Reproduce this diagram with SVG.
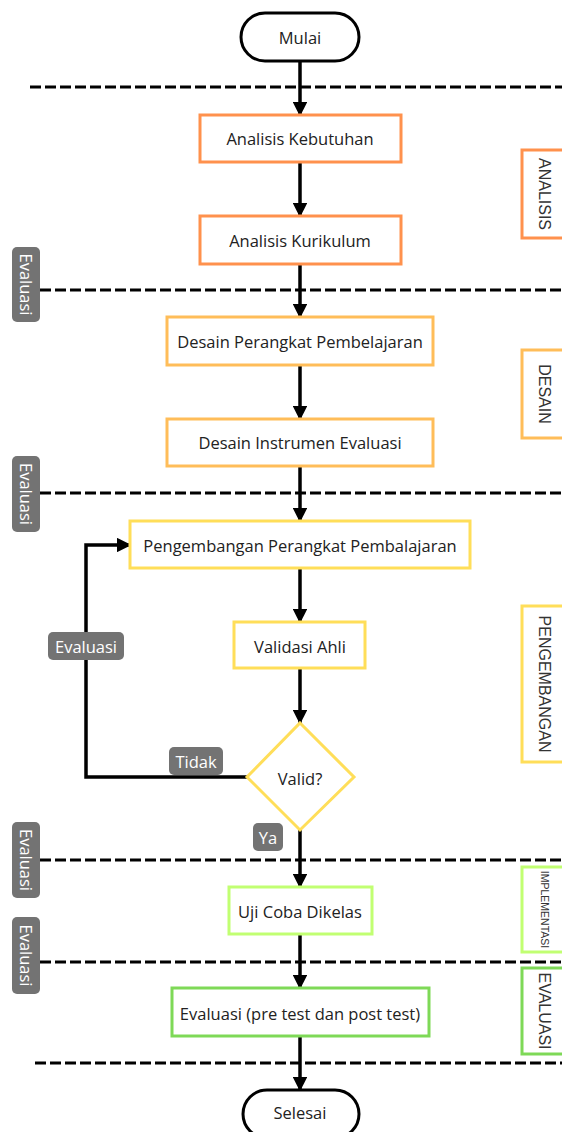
<svg xmlns="http://www.w3.org/2000/svg" width="562" height="1132" viewBox="0 0 562 1132">
<style>
.t{font-family:"Open Sans","Liberation Sans",sans-serif;font-size:16.5px;fill:#222;text-anchor:middle;dominant-baseline:central}
.box{fill:#fff;stroke-width:3}
.dash{stroke:#000;stroke-width:3;stroke-dasharray:11 4;fill:none}
.con{stroke:#000;stroke-width:3.5;fill:none}
.lbl{fill:#737373}
.lt{font-family:"Open Sans","Liberation Sans",sans-serif;font-size:16.5px;fill:#fff;text-anchor:middle;dominant-baseline:central}
.st{font-family:"Liberation Sans",Arial,sans-serif;font-size:16px;fill:#333;text-anchor:middle;dominant-baseline:central}
</style>
<defs>
<marker id="ah" markerWidth="4.2" markerHeight="4.2" refX="3.8" refY="2.1" orient="auto" markerUnits="strokeWidth">
<path d="M0,0 L4.2,2.1 L0,4.2 Z" fill="#000"/>
</marker>
</defs>
<rect width="562" height="1132" fill="#fff"/>
<g id="separators">
<line class="dash" x1="30" y1="87" x2="562" y2="87"/>
<line class="dash" x1="40" y1="290" x2="562" y2="290"/>
<line class="dash" x1="40" y1="493" x2="562" y2="493"/>
<line class="dash" x1="40" y1="860" x2="562" y2="860"/>
<line class="dash" x1="40" y1="962" x2="562" y2="962"/>
<line class="dash" x1="35" y1="1063" x2="562" y2="1063"/>
</g>
<g id="connectors">
<line class="con" x1="300" y1="62" x2="300" y2="115" marker-end="url(#ah)"/>
<line class="con" x1="300" y1="162" x2="300" y2="216" marker-end="url(#ah)"/>
<line class="con" x1="300" y1="264" x2="300" y2="317" marker-end="url(#ah)"/>
<line class="con" x1="300" y1="365" x2="300" y2="419" marker-end="url(#ah)"/>
<line class="con" x1="300" y1="466" x2="300" y2="521" marker-end="url(#ah)"/>
<line class="con" x1="300" y1="568" x2="300" y2="622" marker-end="url(#ah)"/>
<line class="con" x1="300" y1="668" x2="300" y2="723" marker-end="url(#ah)"/>
<line class="con" x1="300" y1="830" x2="300" y2="887" marker-end="url(#ah)"/>
<line class="con" x1="300" y1="934" x2="300" y2="988" marker-end="url(#ah)"/>
<line class="con" x1="300" y1="1036" x2="300" y2="1090" marker-end="url(#ah)"/>
<polyline class="con" points="247,777 86,777 86,545 130,545" marker-end="url(#ah)"/>
</g>
<g id="mulai"><rect x="241" y="13" width="118" height="48" rx="24" fill="#fff" stroke="#000" stroke-width="3"/><text class="t" x="300" y="37">Mulai</text></g>
<g id="analisis-kebutuhan"><rect class="box" x="200" y="115" width="201" height="47" stroke="#FF914D"/><text class="t" x="300" y="138">Analisis Kebutuhan</text></g>
<g id="analisis-kurikulum"><rect class="box" x="200" y="216" width="201" height="48" stroke="#FF914D"/><text class="t" x="300" y="240">Analisis Kurikulum</text></g>
<g id="desain-perangkat"><rect class="box" x="167" y="317" width="266" height="48" stroke="#FFBD59"/><text class="t" x="300" y="341">Desain Perangkat Pembelajaran</text></g>
<g id="desain-instrumen"><rect class="box" x="167" y="419" width="266" height="47" stroke="#FFBD59"/><text class="t" x="300" y="442">Desain Instrumen Evaluasi</text></g>
<g id="pengembangan"><rect class="box" x="130" y="521" width="340" height="47" stroke="#FFDE59"/><text class="t" x="300" y="545">Pengembangan Perangkat Pembalajaran</text></g>
<g id="validasi"><rect class="box" x="234" y="622" width="131" height="46" stroke="#FFDE59"/><text class="t" x="300" y="646">Validasi Ahli</text></g>
<g id="valid"><polygon points="300,723 354,777 300,830 247,777" fill="#fff" stroke="#FFDE59" stroke-width="3"/><text class="t" x="300" y="778">Valid?</text></g>
<g id="uji-coba"><rect class="box" x="229" y="887" width="143" height="47" stroke="#C1FF72"/><text class="t" x="300" y="911">Uji Coba Dikelas</text></g>
<g id="evaluasi-test"><rect class="box" x="172" y="988" width="257" height="48" stroke="#7ED957"/><text class="t" x="300" y="1013">Evaluasi (pre test dan post test)</text></g>
<g id="selesai"><rect x="243" y="1090" width="116" height="48" rx="24" fill="#fff" stroke="#000" stroke-width="3"/><text class="t" x="300" y="1112">Selesai</text></g>
<g id="label-evaluasi-loop"><rect class="lbl" x="48" y="632" width="76" height="28" rx="5"/><text class="lt" x="86" y="646">Evaluasi</text></g>
<g id="label-tidak"><rect class="lbl" x="169" y="747" width="54" height="28" rx="5"/><text class="lt" x="196" y="761">Tidak</text></g>
<g id="label-ya"><rect class="lbl" x="253" y="823" width="30" height="28" rx="5"/><text class="lt" x="268" y="837">Ya</text></g>
<g id="side-evaluasi-1"><rect class="lbl" x="12" y="247" width="28" height="75" rx="5"/><text class="lt" transform="translate(26,284.5) rotate(90)">Evaluasi</text></g>
<g id="side-evaluasi-2"><rect class="lbl" x="12" y="456" width="28" height="76" rx="5"/><text class="lt" transform="translate(26,494) rotate(90)">Evaluasi</text></g>
<g id="side-evaluasi-3"><rect class="lbl" x="12" y="822" width="28" height="76" rx="5"/><text class="lt" transform="translate(26,860) rotate(90)">Evaluasi</text></g>
<g id="side-evaluasi-4"><rect class="lbl" x="12" y="917" width="28" height="77" rx="5"/><text class="lt" transform="translate(26,955.5) rotate(90)">Evaluasi</text></g>
<g id="phase-analisis"><rect class="box" x="522" y="150" width="50" height="88" stroke="#FF914D"/><text class="st" transform="translate(544,194) rotate(90)">ANALISIS</text></g>
<g id="phase-desain"><rect class="box" x="522" y="350" width="50" height="88" stroke="#FFBD59"/><text class="st" transform="translate(544,394) rotate(90)">DESAIN</text></g>
<g id="phase-pengembangan"><rect class="box" x="522" y="606" width="50" height="156" stroke="#FFDE59"/><text class="st" transform="translate(544,684) rotate(90)">PENGEMBANGAN</text></g>
<g id="phase-implementasi"><rect class="box" x="522" y="867" width="50" height="85" stroke="#C1FF72"/><text class="st" style="font-size:10.5px" transform="translate(545,909.5) rotate(90)">IMPLEMENTASI</text></g>
<g id="phase-evaluasi"><rect class="box" x="522" y="968" width="50" height="86" stroke="#7ED957"/><text class="st" transform="translate(544,1011) rotate(90)">EVALUASI</text></g>
</svg>
